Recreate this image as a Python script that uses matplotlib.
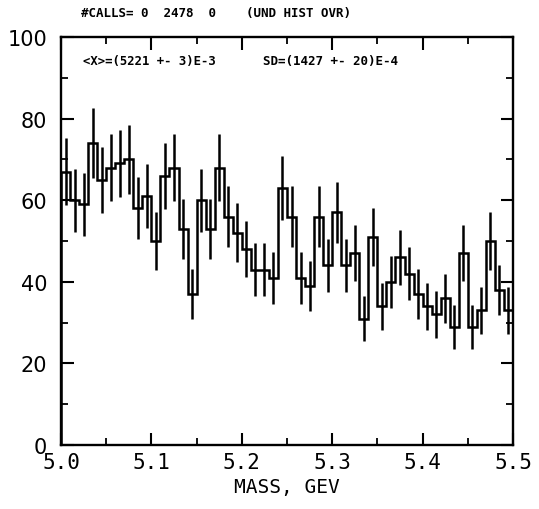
import numpy as np
import matplotlib
matplotlib.use("Agg")
import matplotlib.pyplot as plt
import matplotlib.transforms as mtransforms
from matplotlib.ticker import MultipleLocator

# ---- data ----
bin_low = 5.0
bin_width = 0.01
counts = [67, 60, 59, 74, 65, 68, 69, 70, 58, 61,
          50, 66, 68, 53, 37, 60, 53, 68, 56, 52,
          48, 43, 43, 41, 63, 56, 41, 39, 56, 44,
          57, 44, 47, 31, 51, 34, 40, 46, 42, 37,
          34, 32, 36, 29, 47, 29, 33, 50, 38, 33]
errors = [8.2, 7.7, 7.7, 8.6, 8.1, 8.2, 8.3, 8.4, 7.6, 7.8,
          7.1, 8.1, 8.2, 7.3, 6.1, 7.7, 7.3, 8.2, 7.5, 7.2,
          6.9, 6.6, 6.6, 6.4, 7.9, 7.5, 6.4, 6.2, 7.5, 6.6,
          7.5, 6.6, 6.9, 5.6, 7.1, 5.8, 6.3, 6.8, 6.5, 6.1,
          5.8, 5.7, 6.0, 5.4, 6.9, 5.4, 5.7, 7.1, 6.2, 5.7]
x_ticks = [5.0, 5.1, 5.2, 5.3, 5.4, 5.5]
x_tick_labels = ["5.0", "5.1", "5.2", "5.3", "5.4", "5.5"]
y_ticks = [0, 20, 40, 60, 80, 100]
y_tick_labels = ["0", "20", "40", "60", "80", "100"]
header_text = "#CALLS= 0  2478  0    (UND HIST OVR)"
stats_mean = "<X>=(5221 +- 3)E-3"
stats_sd = "SD=(1427 +- 20)E-4"
x_label = "MASS, GEV"

counts = np.array(counts, dtype=float)
errors = np.array(errors, dtype=float)
n = len(counts)
edges = bin_low + bin_width * np.arange(n + 1)
centers = 0.5 * (edges[:-1] + edges[1:])

W, H = 539, 510
fig = plt.figure(figsize=(W / 100, H / 100), dpi=100)
ax = fig.add_axes([61 / W, 1 - 446 / H, (513 - 61) / W, (446 - 38) / H])

ax.stairs(counts, edges, color="black", linewidth=1.8)
ax.errorbar(centers, counts, yerr=errors, fmt="none", ecolor="black",
            elinewidth=1.8, capsize=0)

ax.set_xlim(5.0, 5.5)
ax.set_ylim(0, 100)

for s in ax.spines.values():
    s.set_linewidth(1.7)

ax.set_xticks(x_ticks)
ax.set_xticklabels(x_tick_labels, family="DejaVu Sans Mono", fontsize=15)
ax.set_yticks(y_ticks)
ax.set_yticklabels(y_tick_labels, family="DejaVu Sans", fontsize=15)
ax.xaxis.set_minor_locator(MultipleLocator(0.05))
ax.yaxis.set_minor_locator(MultipleLocator(10))
ax.tick_params(which="major", direction="in", length=9, width=1.5,
               top=True, right=True, pad=5)
ax.tick_params(which="minor", direction="in", length=5, width=1.3,
               top=True, right=True)
ax.tick_params(axis="y", which="major", pad=10)

ax.set_xlabel(x_label, family="DejaVu Sans Mono", fontsize=14, labelpad=4)

tr = mtransforms.blended_transform_factory(ax.transData, fig.transFigure)
ax.text(5.022, 1 - 14 / H, header_text, transform=tr,
        family="DejaVu Sans Mono", fontweight="bold", fontsize=9,
        va="center", ha="left")
ax.text(5.024, 1 - 61 / H, stats_mean, transform=tr,
        family="DejaVu Sans Mono", fontweight="bold", fontsize=8.8,
        va="center", ha="left")
ax.text(5.224, 1 - 61 / H, stats_sd, transform=tr,
        family="DejaVu Sans Mono", fontweight="bold", fontsize=9,
        va="center", ha="left")

fig.savefig("out.png", dpi=100)
